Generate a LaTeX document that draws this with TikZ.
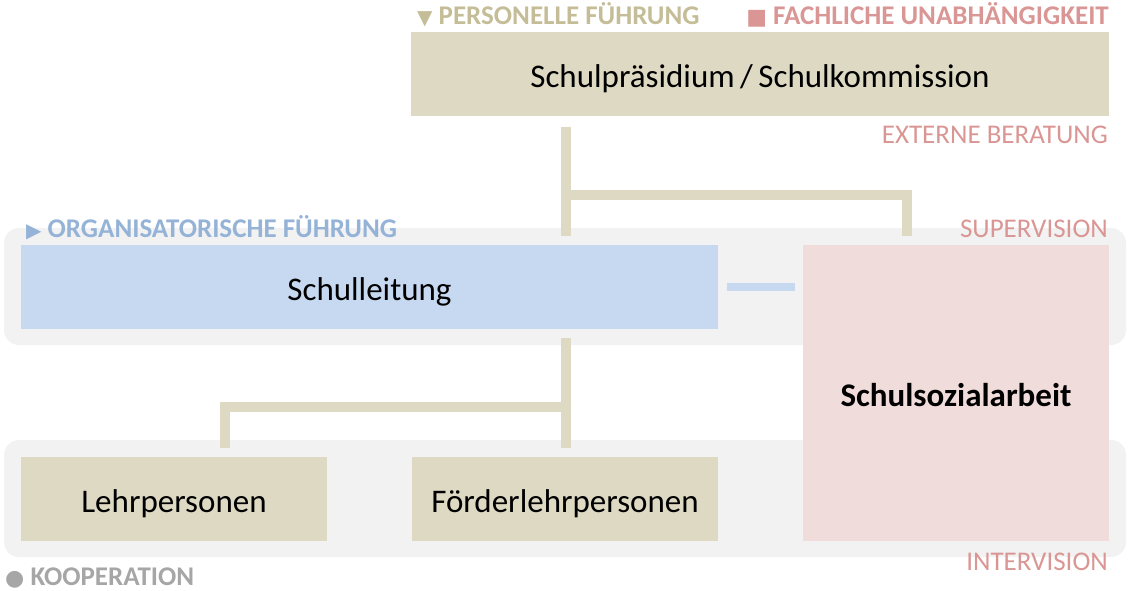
\documentclass[tikz,border=0pt]{standalone}
\usepackage{fontspec}
\setmainfont{Carlito}
\newfontfamily\symfont{DejaVu Sans}
\definecolor{tanfill}{HTML}{DDD9C3}
\definecolor{tantext}{HTML}{C4BD97}
\definecolor{rosefill}{HTML}{F0DCDB}
\definecolor{rosetext}{HTML}{D99694}
\definecolor{bluefill}{HTML}{C6D9F1}
\definecolor{bluetext}{HTML}{95B3D7}
\definecolor{bandgray}{HTML}{F2F2F2}
\definecolor{graytext}{HTML}{A6A6A6}

\begin{document}
\begin{tikzpicture}[x=1pt,y=-1pt,
   band/.style={fill=bandgray,rounded corners=15pt,minimum width=1122pt,minimum height=117pt,inner sep=0pt},
   box/.style={fill=tanfill,minimum width=306pt,minimum height=84pt,inner sep=0pt,text height=33pt,text depth=7pt,font=\fontsize{33}{39}\selectfont},
   link/.style={draw=tanfill,line width=10pt},
   legend/.style={inner sep=0pt,font=\fontsize{27}{32}\selectfont\bfseries},
   note/.style={inner sep=0pt,text=rosetext,font=\fontsize{27}{32}\selectfont}]

\useasboundingbox (0,0) rectangle (1130,590);

\node[band] (upperband) at (565,286.5) {};
\node[band] (lowerband) at (565,498.5) {};

\node[box,minimum width=698pt] (board) at (760,74) {Schulpräsidium\,/\,Schulkommission};
\node[box,fill=bluefill,minimum width=697pt] (lead) at (369.5,287) {Schulleitung};
\node[box,fill=rosefill,minimum height=296pt,font=\fontsize{33}{39}\selectfont\bfseries] (social) at (956,393) {Schulsozialarbeit};
\node[box] (teach) at (174,499) {Lehrpersonen};
\node[box] (support) at (565,499) {Förderlehrpersonen};

\coordinate (topfork) at (566,195);
\coordinate (lowfork) at (566,407);

\draw[link,shorten <=11pt,shorten >=9pt] (board.south -| topfork) -- (lead.north -| topfork);
\draw[link,shorten >=9pt] (topfork) -| (social.north -| 907,0);
\draw[link,shorten <=9pt,shorten >=9pt] (lead.south -| lowfork) -- (support.north -| lowfork);
\draw[link,shorten >=9pt] (lowfork) -| (teach.north -| 225,0);
\draw[link,draw=bluefill,line width=8pt,shorten <=9pt,shorten >=8pt] (lead.east) -- (lead.east -| social.west);

\node[legend,text=tantext,anchor=base west] (personnel) at (417,24) {{\symfont\fontsize{20}{20}\selectfont ▼} PERSONELLE FÜHRUNG};
\node[legend,text=rosetext,anchor=base east] (expert) at (1109,24) {{\symfont\fontsize{22}{20}\selectfont ■} FACHLICHE UNABHÄNGIGKEIT};
\node[legend,text=bluetext,anchor=base west] (organisation) at (26,237) {{\symfont\fontsize{20}{20}\selectfont ▶} ORGANISATORISCHE FÜHRUNG};
\node[legend,text=graytext,anchor=base west] (cooperation) at (5,585) {{\symfont\fontsize{22}{20}\selectfont ●} KOOPERATION};
\node[note,anchor=base east] (counsel) at (1108,143) {EXTERNE BERATUNG};
\node[note,anchor=base east] (supervision) at (1108,237) {SUPERVISION};
\node[note,anchor=base east] (intervision) at (1108,570) {INTERVISION};

\end{tikzpicture}
\end{document}
